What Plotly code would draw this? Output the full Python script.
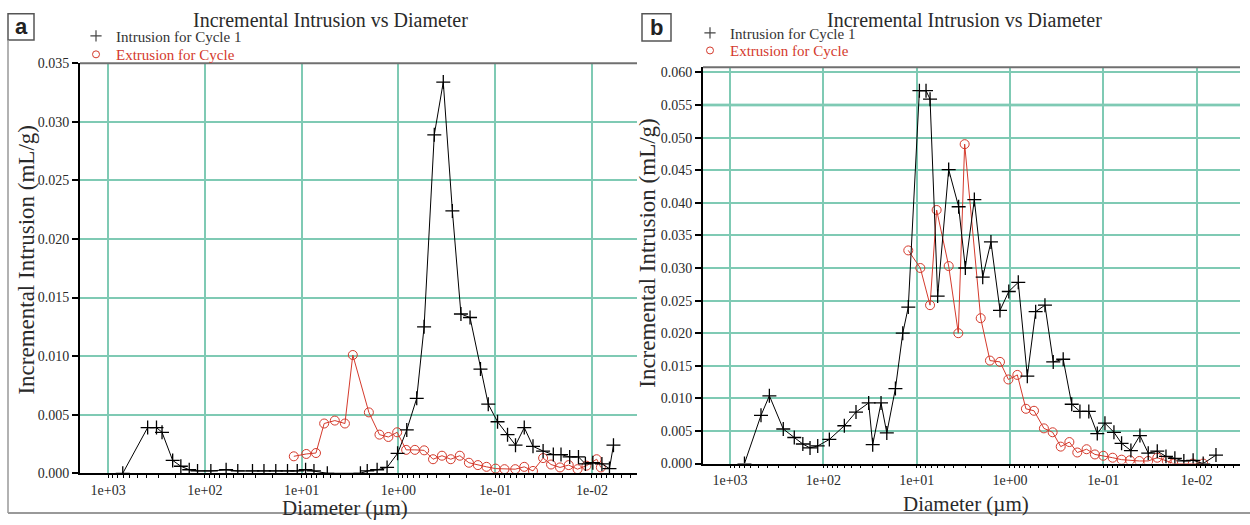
import plotly.graph_objects as go

W, H = 1250, 525

# ---------------- data (diameter in µm, incremental intrusion in mL/g) ----------------
A_INTR_D = [705, 390, 316, 277, 215, 177, 145, 119, 86.7, 60.3, 45.7, 32.2, 24.5, 18.5, 14.0,
            11.1, 9.1, 7.46, 5.43, 2.47, 2.10, 1.66, 1.31, 1.02, 0.82, 0.647, 0.543, 0.426,
            0.344, 0.277, 0.226, 0.182, 0.142, 0.118, 0.0946, 0.0746, 0.0617, 0.0501, 0.0407,
            0.032, 0.0251, 0.0209, 0.017, 0.0138, 0.0117, 0.0098, 0.0079, 0.0066, 0.006]
A_INTR_V = [0.0, 0.0039, 0.0039, 0.0035, 0.0011, 0.0006, 0.0003, 0.0002, 0.0002, 0.0003, 0.0002,
            0.0002, 0.0002, 0.0002, 0.0002, 0.0002, 0.0003, 0.0002, 0.0, 0.0, 0.0002, 0.0003,
            0.0005, 0.0017, 0.0037, 0.0064, 0.0125, 0.0289, 0.0334, 0.0224, 0.0136, 0.0133,
            0.0089, 0.0059, 0.0044, 0.0033, 0.0024, 0.0039, 0.0023, 0.0019, 0.0016, 0.0016,
            0.0014, 0.0014, 0.0008, 0.0009, 0.0008, 0.0004, 0.0024]

A_EXTR_D = [12.05, 8.95, 7.11, 5.85, 4.54, 3.57, 2.96, 2.02, 1.57, 1.27, 1.03, 0.832, 0.676,
            0.542, 0.439, 0.355, 0.288, 0.232, 0.187, 0.151, 0.123, 0.0991, 0.0802, 0.0621,
            0.0501, 0.0407, 0.032, 0.0265, 0.0214, 0.0174, 0.0141, 0.0114, 0.00895, 0.0081]
A_EXTR_V = [0.00145, 0.00165, 0.00173, 0.00425, 0.0045, 0.00425, 0.0101, 0.0052, 0.0033, 0.0031,
            0.0035, 0.0020, 0.0020, 0.00196, 0.0012, 0.0015, 0.0012, 0.0015, 0.0009, 0.0007,
            0.00055, 0.0004, 0.00035, 0.00035, 0.00055, 0.0002, 0.0013, 0.00075, 0.0005,
            0.0007, 0.00035, 0.00065, 0.0012, 0.0005]

B_INTR_D = [701, 466, 379, 269, 205, 166, 139, 115, 86.3, 59.6, 44.7, 32.7, 29.6, 24.1, 20.9,
            16.9, 14.1, 12.3, 9.35, 7.94, 7.19, 5.96, 4.54, 3.55, 3.01, 2.41, 1.96, 1.60, 1.28,
            1.03, 0.815, 0.652, 0.531, 0.422, 0.344, 0.269, 0.218, 0.178, 0.143, 0.116, 0.096,
            0.0769, 0.0637, 0.0506, 0.0405, 0.033, 0.0264, 0.0213, 0.0171, 0.0137, 0.0109,
            0.0085, 0.0062]
B_INTR_V = [0.0, 0.0074, 0.0104, 0.0053, 0.0040, 0.0030, 0.0024, 0.0027, 0.0037, 0.0058, 0.0079,
            0.0093, 0.0029, 0.0093, 0.0047, 0.0115, 0.020, 0.024, 0.0572, 0.0572, 0.0559, 0.0257,
            0.0451, 0.0394, 0.030, 0.0405, 0.0286, 0.034, 0.0235, 0.0264, 0.0278, 0.0134, 0.0233,
            0.0243, 0.0156, 0.016, 0.0091, 0.008, 0.008, 0.0046, 0.0062, 0.0048, 0.0031, 0.002,
            0.0043, 0.0016, 0.0019, 0.0011, 0.0008, 0.0004, 0.0005, 0.0, 0.0013]

B_EXTR_D = [12.3, 9.14, 7.19, 6.11, 4.54, 3.58, 3.06, 2.06, 1.64, 1.28, 1.04, 0.834, 0.675,
            0.553, 0.433, 0.349, 0.286, 0.231, 0.19, 0.151, 0.123, 0.1, 0.0794, 0.0637, 0.0518,
            0.0411, 0.033, 0.0264, 0.0209, 0.0178, 0.011, 0.0085]
B_EXTR_V = [0.0327, 0.030, 0.0243, 0.0389, 0.0303, 0.020, 0.049, 0.0223, 0.0158, 0.0156, 0.0129,
            0.0136, 0.0084, 0.0081, 0.0054, 0.0048, 0.0026, 0.0033, 0.0017, 0.0022, 0.0014,
            0.0012, 0.0009, 0.0006, 0.0005, 0.0004, 0.0004, 0.0009, 0.0004, 0.0, 0.0, 0.0]

MAJOR_TICKS = [1e3, 1e2, 1e1, 1e0, 1e-1, 1e-2]
MAJOR_TEXT = ["1e+03", "1e+02", "1e+01", "1e+00", "1e-01", "1e-02"]
TITLE = "Incremental Intrusion vs Diameter"
Y_TITLE = "Incremental Intrusion (mL/g)"
X_TITLE = "Diameter (µm)"
LEG_INTR = "Intrusion for Cycle 1"
LEG_EXTR = "Extrusion for Cycle"

# ---------------- styles ----------------
SERIF = "Liberation Serif"
RED = "#d43a2c"
GRID = "#7fcab4"
TXT = "#2a2a2a"


def px(x):
    return x / W


def py(y):
    return 1 - y / H


minor_vals = [m * 10 ** e for e in range(-3, 4) for m in range(2, 10)]

fig = go.Figure()


def add_panel(xa, ya, d_i, v_i, d_e, v_e, leg_i, leg_e):
    fig.add_trace(go.Scatter(
        x=d_e, y=v_e, mode="lines+markers", xaxis=xa, yaxis=ya, showlegend=False,
        line=dict(color=RED, width=1),
        marker=dict(symbol="circle-open", size=9, color=RED, line=dict(width=1, color=RED))))
    fig.add_trace(go.Scatter(
        x=d_i, y=v_i, mode="lines+markers", xaxis=xa, yaxis=ya, showlegend=False,
        line=dict(color="black", width=1),
        marker=dict(symbol="cross-thin", size=10, color="black", line=dict(width=1.3, color="black"))))
    fig.add_trace(go.Scatter(
        x=[None], y=[None], mode="markers", xaxis=xa, yaxis=ya, legend=leg_i, name=LEG_INTR,
        marker=dict(symbol="cross-thin", size=8, color="#444", line=dict(width=1.2, color="#444"))))
    fig.add_trace(go.Scatter(
        x=[None], y=[None], mode="markers", xaxis=xa, yaxis=ya, legend=leg_e,
        name='<span style="color:%s">%s</span>' % (RED, LEG_EXTR),
        marker=dict(symbol="circle-open", size=7, color=RED, line=dict(width=1, color=RED))))


add_panel("x", "y", A_INTR_D, A_INTR_V, A_EXTR_D, A_EXTR_V, "legend", "legend3")
add_panel("x2", "y2", B_INTR_D, B_INTR_V, B_EXTR_D, B_EXTR_V, "legend2", "legend4")


def xaxis_cfg(x0, x1, anchor):
    return dict(
        type="log", range=[3.29, -2.465], domain=[px(x0), px(x1)], anchor=anchor,
        tickmode="array", tickvals=MAJOR_TICKS, ticktext=MAJOR_TEXT,
        showgrid=True, gridcolor=GRID, gridwidth=1.6, zeroline=False,
        showline=True, linecolor="black", linewidth=1.5,
        ticks="outside", ticklen=3, tickcolor="black", tickwidth=1,
        tickfont=dict(family=SERIF, size=14, color=TXT),
        minor=dict(tickmode="array", tickvals=minor_vals, ticks="outside", ticklen=3,
                   tickcolor="black", showgrid=False))


def yaxis_cfg(y_top, y_bot, top, anchor):
    return dict(
        range=[0, top], domain=[py(y_bot), py(y_top)], anchor=anchor,
        dtick=0.005, tick0=0, tickformat=".3f",
        showgrid=True, gridcolor=GRID, gridwidth=1.6, zeroline=False,
        showline=True, linecolor="black", linewidth=2,
        ticks="outside", ticklen=6, tickcolor="black", tickwidth=1.5,
        tickfont=dict(family=SERIF, size=14, color=TXT))


legend_common = dict(xanchor="left", yanchor="top", bgcolor="rgba(0,0,0,0)", borderwidth=0,
                     font=dict(family=SERIF, size=15, color="#333"), itemwidth=30,
                     tracegroupgap=0, itemclick=False, itemdoubleclick=False)

fig.update_layout(
    width=W, height=H, margin=dict(l=0, r=0, t=0, b=0),
    paper_bgcolor="white", plot_bgcolor="white",
    xaxis=xaxis_cfg(80, 637, "y"),
    yaxis=yaxis_cfg(58, 480, 0.035, "x"),
    xaxis2=xaxis_cfg(703, 1240, "y2"),
    yaxis2=yaxis_cfg(62, 470, 0.0608, "x2"),
    legend=dict(x=px(76), y=py(13), **legend_common),
    legend3=dict(x=px(76), y=py(32), **legend_common),
    legend2=dict(x=px(690), y=py(10), **legend_common),
    legend4=dict(x=px(690), y=py(28), **legend_common),
)

annots = []
for cx, ty in [(330, 13), (964, 13)]:
    annots.append(dict(text=TITLE, x=px(cx), y=py(ty), xref="paper", yref="paper",
                       showarrow=False, xanchor="center", yanchor="middle",
                       font=dict(family=SERIF, size=20, color=TXT)))
for cx, cy in [(27, 260), (648, 253)]:
    annots.append(dict(text=Y_TITLE, x=px(cx), y=py(cy), xref="paper", yref="paper",
                       showarrow=False, textangle=-90, xanchor="center", yanchor="middle",
                       font=dict(family=SERIF, size=23, color=TXT)))
for cx, cy in [(345, 516), (966, 512)]:
    annots.append(dict(text=X_TITLE, x=px(cx), y=py(cy), xref="paper", yref="paper",
                       showarrow=False, xanchor="center", yanchor="middle",
                       font=dict(family=SERIF, size=21, color=TXT)))
for lab, cx, cy in [("a", 21, 20), ("b", 656, 21)]:
    annots.append(dict(text="<b>%s</b>" % lab, x=px(cx), y=py(cy), xref="paper", yref="paper",
                       showarrow=False, xanchor="center", yanchor="middle",
                       font=dict(family="Liberation Sans", size=22, color="#222")))
fig.update_layout(annotations=annots)

shapes = []
# panel label boxes
shapes.append(dict(type="rect", xref="paper", yref="paper", x0=px(8), x1=px(34), y0=py(34), y1=py(7),
                   line=dict(color="#555", width=1.5)))
shapes.append(dict(type="rect", xref="paper", yref="paper", x0=px(642), x1=px(671), y0=py(35), y1=py(7),
                   line=dict(color="#555", width=1.5)))
# panel borders
shapes.append(dict(type="line", xref="paper", yref="paper", x0=px(8), x1=px(8), y0=py(521), y1=py(34),
                   line=dict(color="#999", width=1.5)))
shapes.append(dict(type="line", xref="paper", yref="paper", x0=px(8), x1=px(1250), y0=py(521), y1=py(521),
                   line=dict(color="#999", width=2)))
# top frame lines of plot areas
shapes.append(dict(type="line", xref="x domain", yref="y domain", x0=0, x1=1, y0=1, y1=1,
                   line=dict(color="#707070", width=2)))
shapes.append(dict(type="line", xref="x2 domain", yref="y2 domain", x0=0, x1=1, y0=1, y1=1,
                   line=dict(color="#707070", width=2)))
# emphasised grid line at 0.055 in panel b
shapes.append(dict(type="line", xref="x2 domain", yref="y2", x0=0, x1=1, y0=0.055, y1=0.055,
                   line=dict(color="#3fae93", width=2.5), layer="below"))
fig.update_layout(shapes=shapes)

fig.write_html("out.html")
